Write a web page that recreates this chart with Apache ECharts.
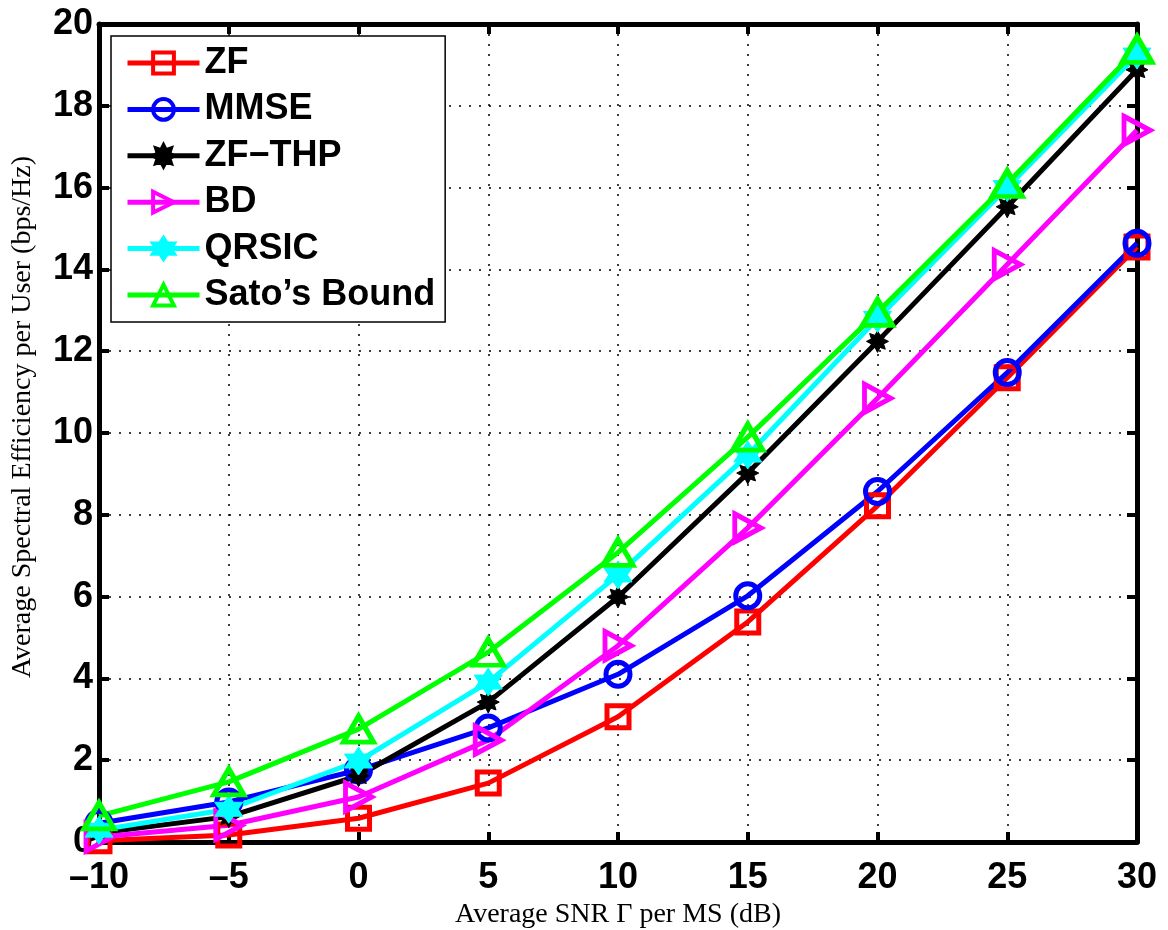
<!DOCTYPE html>
<html>
<head>
<meta charset="utf-8">
<script src="https://cdn.jsdelivr.net/npm/echarts@6/dist/echarts.min.js"></script>
<style>
  html, body { margin: 0; padding: 0; background: #fff; }
  #chart { width: 1168px; height: 930px; }
</style>
</head>
<body>
<div id="chart"></div>
<script>
// SNR points (dB)
const snr = [-10, -5, 0, 5, 10, 15, 20, 25, 30];

// spectral efficiency per user (bps/Hz)
const zf     = [0.03, 0.17, 0.58, 1.44, 3.06, 5.38, 8.22, 11.35, 14.55];
const mmse   = [0.46, 0.98, 1.76, 2.79, 4.10, 6.02, 8.57, 11.48, 14.64];
const zfThp  = [0.22, 0.62, 1.62, 3.42, 5.99, 9.02, 12.24, 15.53, 18.88];
const bd     = [0.12, 0.41, 1.10, 2.49, 4.80, 7.68, 10.85, 14.12, 17.40];
const qrsic  = [0.29, 0.80, 1.98, 3.91, 6.53, 9.46, 12.80, 16.00, 19.24];
const sato   = [0.64, 1.47, 2.76, 4.64, 7.08, 9.90, 12.95, 16.10, 19.38];

const names = ['ZF', 'MMSE', 'ZF\u2212THP', 'BD', 'QRSIC', 'Sato\u2019s Bound'];

const chart = echarts.init(document.getElementById('chart'));

const tickFont = {
    fontFamily: 'Liberation Sans, Arial, sans-serif',
    fontWeight: 'bold',
    fontSize: 36,
    color: '#000'
};

const serifName = {
    fontFamily: 'Liberation Serif, Times New Roman, serif',
    fontSize: 28,
    color: '#000'
};

const pairs = (ys) => snr.map((x, i) => [x, ys[i]]);

const rightTri = 'path://M0,0 L10,5 L0,10 Z';
const hexagram = 'path://M0,-10 L8.66,5 L-8.66,5 Z M0,10 L-8.66,-5 L8.66,-5 Z';
// filled blob for the ZF-THP marker (8-point star)
const star8 = 'path://M0,-10 L2.3,-5.5 L7.1,-7.1 L5.5,-2.3 L10,0 L5.5,2.3 L7.1,7.1 L2.3,5.5 L0,10 L-2.3,5.5 L-7.1,7.1 L-5.5,2.3 L-10,0 L-5.5,-2.3 L-7.1,-7.1 L-2.3,-5.5 Z';

const mkSeries = (name, ys, color, symbol, size, filled) => ({
    name: name,
    type: 'line',
    data: pairs(ys),
    clip: false,
    symbol: symbol,
    symbolSize: size,
    showAllSymbol: true,
    lineStyle: { color: color, width: 5 },
    itemStyle: {
        color: filled ? color : 'rgba(255,255,255,0)',
        borderColor: color,
        borderWidth: filled ? 1 : 5
    },
    emphasis: { disabled: true }
});

const option = {
    animation: false,
    backgroundColor: '#fff',
    grid: { left: 99, right: 31, top: 24, bottom: 88, containLabel: false, outerBoundsMode: 'none' },
    legend: {
        orient: 'vertical',
        left: 111,
        top: 36,
        padding: [9, 10, 9, 14],
        itemGap: 10.4,
        itemWidth: 72,
        itemHeight: 26,
        backgroundColor: '#fff',
        borderColor: '#000',
        borderWidth: 1.5,
        borderRadius: 0,
        lineStyle: { width: 5 },
        itemStyle: { borderWidth: 4 },
        textStyle: {
            fontFamily: 'Liberation Sans, Arial, sans-serif',
            fontWeight: 'bold',
            fontSize: 36,
            lineHeight: 36,
            color: '#000'
        },
        data: names
    },
    xAxis: [{
        type: 'value',
        min: -10,
        max: 30,
        interval: 5,
        name: 'Average SNR \u0393 per MS (dB)',
        nameLocation: 'middle',
        nameGap: 50,
        nameTextStyle: serifName,
        axisLine: { onZero: false, lineStyle: { color: '#000', width: 5 } },
        axisTick: { inside: true, length: 10, lineStyle: { color: '#000', width: 4 } },
        axisLabel: Object.assign({ margin: 18, formatter: (v) => String(v).replace('-', '\u2013') }, tickFont),
        splitLine: { show: true, lineStyle: { color: '#000', width: 1.5, type: [2, 8] } }
    }, {
        type: 'value',
        position: 'top',
        min: -10,
        max: 30,
        interval: 5,
        axisLine: { onZero: false, lineStyle: { color: '#000', width: 5 } },
        axisTick: { inside: true, length: 10, lineStyle: { color: '#000', width: 4 } },
        axisLabel: { show: false },
        splitLine: { show: false }
    }],
    yAxis: [{
        type: 'value',
        min: 0,
        max: 20,
        interval: 2,
        name: 'Average Spectral Efficiency per User (bps/Hz)',
        nameLocation: 'middle',
        nameGap: 62,
        nameTextStyle: Object.assign({ padding: [0, 0, 0, 32] }, serifName),
        axisLine: { show: true, onZero: false, lineStyle: { color: '#000', width: 5 } },
        axisTick: { show: true, inside: true, length: 10, lineStyle: { color: '#000', width: 4 } },
        axisLabel: Object.assign({ margin: 6 }, tickFont),
        splitLine: { show: true, lineStyle: { color: '#000', width: 1.5, type: [2, 8] } }
    }, {
        type: 'value',
        position: 'right',
        min: 0,
        max: 20,
        interval: 2,
        axisLine: { show: true, onZero: false, lineStyle: { color: '#000', width: 5 } },
        axisTick: { show: true, inside: true, length: 10, lineStyle: { color: '#000', width: 4 } },
        axisLabel: { show: false },
        splitLine: { show: false }
    }],
    series: [
        mkSeries(names[0], zf, '#ff0000', 'rect', 22, false),
        mkSeries(names[1], mmse, '#0000ff', 'circle', 24, false),
        mkSeries(names[2], zfThp, '#000000', star8, 22, true),
        mkSeries(names[3], bd, '#ff00ff', rightTri, [26, 28], false),
        mkSeries(names[4], qrsic, '#00ffff', hexagram, 28, true),
        mkSeries(names[5], sato, '#00ff00', 'triangle', [30, 26], false)
    ]
};

chart.setOption(option);
</script>
</body>
</html>
